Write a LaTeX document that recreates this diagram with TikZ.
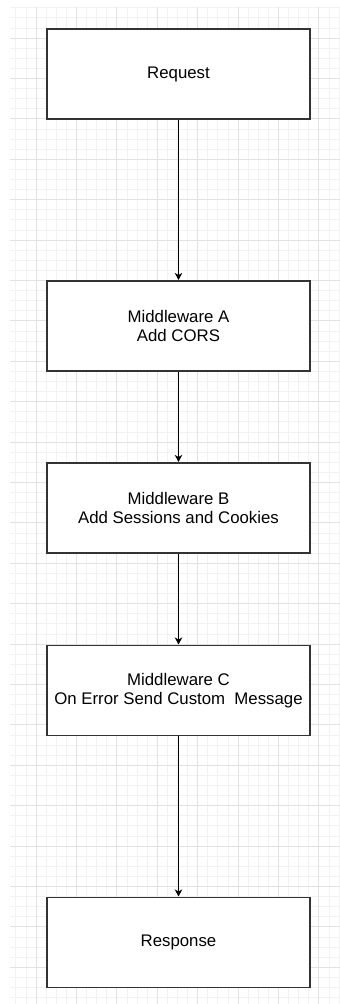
\documentclass[tikz,border=0pt]{standalone}
\usepackage{fontspec}
\setmainfont{Liberation Sans}
\usetikzlibrary{arrows.meta}
\definecolor{minorgrid}{HTML}{F2F2F2}
\definecolor{majorgrid}{HTML}{E2E2E2}
\definecolor{boxline}{HTML}{333333}
\tikzset{
  minorline/.style={draw=minorgrid, line width=0.8pt},
  majorline/.style={draw=majorgrid, line width=0.9pt},
  stepbox/.style={draw=boxline, fill=white, line width=1.1pt, minimum width=263pt, minimum height=90pt, inner sep=0pt, align=center, font=\fontsize{16.8}{19.5}\selectfont},
  arr/.style={draw=black, line width=1pt, -{Stealth[length=7pt,width=7.5pt,inset=2pt]}, shorten >=0.5pt}
}
\begin{document}
\begin{tikzpicture}[x=1pt,y=-1pt]
\useasboundingbox (0,0) rectangle (340,1004);
\fill[white] (0,0) rectangle (340,1004);
\begin{scope}
\clip (10,7) rectangle (340,1004);
\foreach \i in {-3,...,31} { \draw[minorline] ({36+\i*10.1},7) -- ({36+\i*10.1},1004); }
\foreach \j in {-3,...,96} { \draw[minorline] (10,{38+\j*10.1}) -- (340,{38+\j*10.1}); }
\foreach \i in {0,...,7} { \draw[majorline] ({36+\i*40.4},7) -- ({36+\i*40.4},1004); }
\foreach \j in {0,...,24} { \draw[majorline] (10,{38+\j*40.4}) -- (340,{38+\j*40.4}); }
\end{scope}
\node[stepbox] (req) at (178.5,74) {Request};
\node[stepbox] (ma) at (178.5,326) {Middleware A\\Add CORS};
\node[stepbox] (mb) at (178.5,508) {Middleware B\\Add Sessions and Cookies};
\node[stepbox] (mc) at (178.5,690.5) {Middleware C\\On Error Send Custom\ \ Message};
\node[stepbox] (resp) at (178.5,942.5) {Response};
\draw[arr] (req) -- (ma);
\draw[arr] (ma) -- (mb);
\draw[arr] (mb) -- (mc);
\draw[arr] (mc) -- (resp);
\end{tikzpicture}
\end{document}
